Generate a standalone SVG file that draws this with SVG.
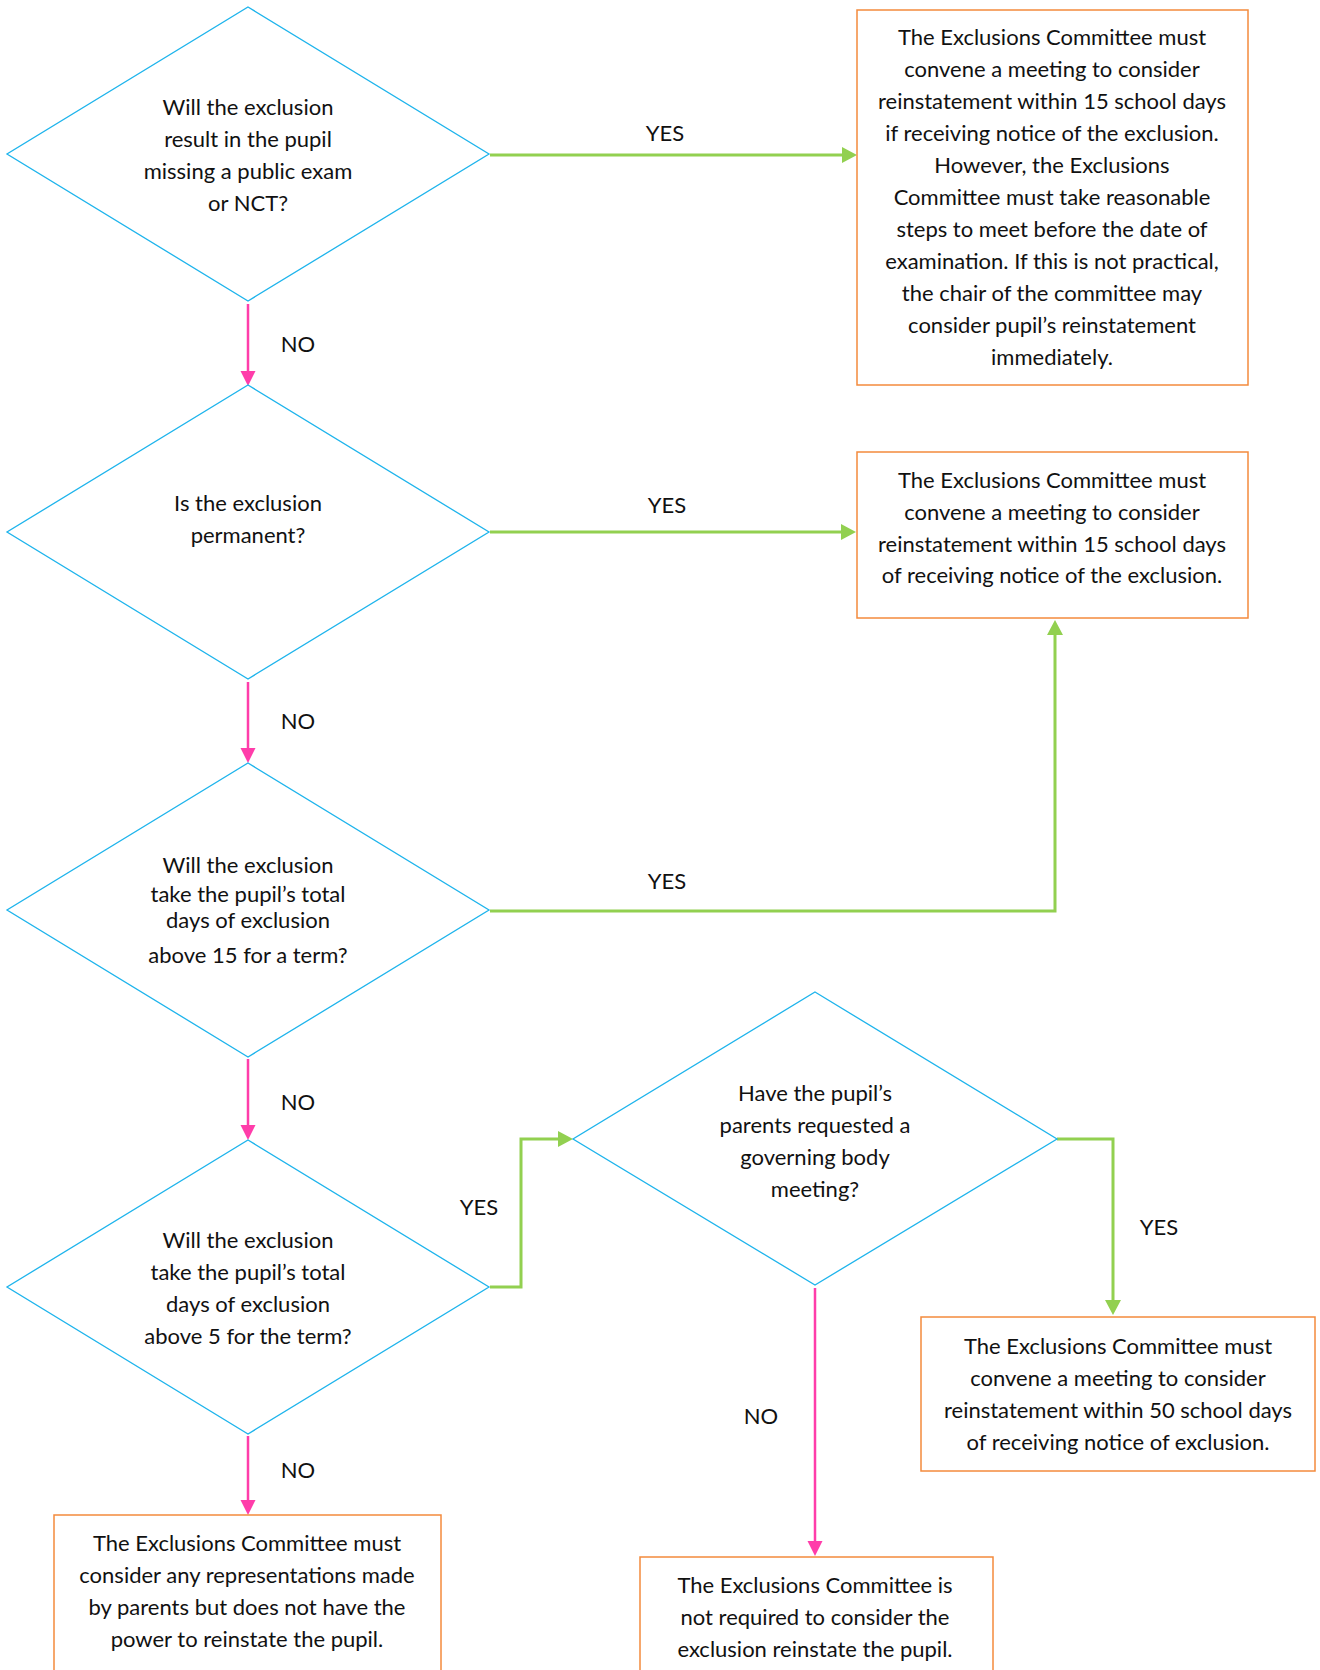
<svg xmlns="http://www.w3.org/2000/svg" width="1320" height="1670" viewBox="0 0 1320 1670">
<defs>
<style>
.dia{fill:#fff;stroke:#1EB4EC;stroke-width:1.3}
.box{fill:#fff;stroke:#F48A3C;stroke-width:1.5}
.t{font-family:Lato,"Open Sans","Liberation Sans",sans-serif;font-size:22px;fill:#111;text-anchor:middle}
.yes{fill:none;stroke:#92D050;stroke-width:3}
.no{fill:none;stroke:#FF3DAA;stroke-width:2.5}
</style>
<marker id="ag" markerUnits="userSpaceOnUse" markerWidth="16" markerHeight="16" refX="5" refY="8" orient="auto"><path d="M0,0 L15,8 L0,16 Z" fill="#92D050"/></marker>
<marker id="ap" markerUnits="userSpaceOnUse" markerWidth="16" markerHeight="16" refX="5" refY="8" orient="auto"><path d="M0,0.5 L15,8 L0,15.5 Z" fill="#FF3DAA"/></marker>
</defs>
<rect width="1320" height="1670" fill="#fff"/>

<g id="connectors">
<line class="yes" x1="490" y1="155" x2="847" y2="155" marker-end="url(#ag)"/>
<line class="yes" x1="490" y1="532" x2="846" y2="532" marker-end="url(#ag)"/>
<polyline class="yes" points="490,911 1055,911 1055,630" marker-end="url(#ag)"/>
<polyline class="yes" points="490,1287 521,1287 521,1139 563,1139" marker-end="url(#ag)"/>
<polyline class="yes" points="1057,1139 1113,1139 1113,1305" marker-end="url(#ag)"/>
<line class="no" x1="248" y1="304" x2="248" y2="376" marker-end="url(#ap)"/>
<line class="no" x1="248" y1="682" x2="248" y2="753" marker-end="url(#ap)"/>
<line class="no" x1="248" y1="1059" x2="248" y2="1130" marker-end="url(#ap)"/>
<line class="no" x1="248" y1="1436" x2="248" y2="1505" marker-end="url(#ap)"/>
<line class="no" x1="815" y1="1288" x2="815" y2="1546" marker-end="url(#ap)"/>
<text class="t" x="665" y="141">YES</text>
<text class="t" x="667" y="513">YES</text>
<text class="t" x="667" y="889">YES</text>
<text class="t" x="479" y="1215">YES</text>
<text class="t" x="1159" y="1235">YES</text>
<text class="t" x="298" y="352">NO</text>
<text class="t" x="298" y="729">NO</text>
<text class="t" x="298" y="1110">NO</text>
<text class="t" x="298" y="1478">NO</text>
<text class="t" x="761" y="1424">NO</text>
</g>

<g id="d1">
<polygon class="dia" points="248,7 489,154 248,301 7,154"/>
<text class="t" x="248" y="115">Will the exclusion</text>
<text class="t" x="248" y="147">result in the pupil</text>
<text class="t" x="248" y="179">missing a public exam</text>
<text class="t" x="248" y="211">or NCT?</text>
</g>

<g id="d2">
<polygon class="dia" points="248,385 489,532 248,679 7,532"/>
<text class="t" x="248" y="511">Is the exclusion</text>
<text class="t" x="248" y="543">permanent?</text>
</g>

<g id="d3">
<polygon class="dia" points="248,763 489,910 248,1057 7,910"/>
<text class="t" x="248" y="873">Will the exclusion</text>
<text class="t" x="248" y="902">take the pupil’s total</text>
<text class="t" x="248" y="928">days of exclusion</text>
<text class="t" x="248" y="963">above 15 for a term?</text>
</g>

<g id="d4">
<polygon class="dia" points="248,1140 489,1287 248,1434 7,1287"/>
<text class="t" x="248" y="1248">Will the exclusion</text>
<text class="t" x="248" y="1280">take the pupil’s total</text>
<text class="t" x="248" y="1312">days of exclusion</text>
<text class="t" x="248" y="1344">above 5 for the term?</text>
</g>

<g id="d5">
<polygon class="dia" points="815,992 1057,1139 815,1285 573,1139"/>
<text class="t" x="815" y="1101">Have the pupil’s</text>
<text class="t" x="815" y="1133">parents requested a</text>
<text class="t" x="815" y="1165">governing body</text>
<text class="t" x="815" y="1197">meeting?</text>
</g>

<g id="b1">
<rect class="box" x="857" y="10" width="391" height="375"/>
<text class="t" x="1052" y="45">The Exclusions Committee must</text>
<text class="t" x="1052" y="77">convene a meeting to consider</text>
<text class="t" x="1052" y="109">reinstatement within 15 school days</text>
<text class="t" x="1052" y="141">if receiving notice of the exclusion.</text>
<text class="t" x="1052" y="173">However, the Exclusions</text>
<text class="t" x="1052" y="205">Committee must take reasonable</text>
<text class="t" x="1052" y="237">steps to meet before the date of</text>
<text class="t" x="1052" y="269">examination. If this is not practical,</text>
<text class="t" x="1052" y="301">the chair of the committee may</text>
<text class="t" x="1052" y="333">consider pupil’s reinstatement</text>
<text class="t" x="1052" y="365">immediately.</text>
</g>

<g id="b2">
<rect class="box" x="857" y="452" width="391" height="166"/>
<text class="t" x="1052" y="488">The Exclusions Committee must</text>
<text class="t" x="1052" y="520">convene a meeting to consider</text>
<text class="t" x="1052" y="552">reinstatement within 15 school days</text>
<text class="t" x="1052" y="583">of receiving notice of the exclusion.</text>
</g>

<g id="b3">
<rect class="box" x="921" y="1317" width="394" height="154"/>
<text class="t" x="1118" y="1354">The Exclusions Committee must</text>
<text class="t" x="1118" y="1386">convene a meeting to consider</text>
<text class="t" x="1118" y="1418">reinstatement within 50 school days</text>
<text class="t" x="1118" y="1450">of receiving notice of exclusion.</text>
</g>

<g id="b4">
<rect class="box" x="54" y="1515" width="387" height="180"/>
<text class="t" x="247" y="1551">The Exclusions Committee must</text>
<text class="t" x="247" y="1583">consider any representations made</text>
<text class="t" x="247" y="1615">by parents but does not have the</text>
<text class="t" x="247" y="1647">power to reinstate the pupil.</text>
</g>

<g id="b5">
<rect class="box" x="640" y="1557" width="353" height="140"/>
<text class="t" x="815" y="1593">The Exclusions Committee is</text>
<text class="t" x="815" y="1625">not required to consider the</text>
<text class="t" x="815" y="1657">exclusion reinstate the pupil.</text>
</g>
</svg>
